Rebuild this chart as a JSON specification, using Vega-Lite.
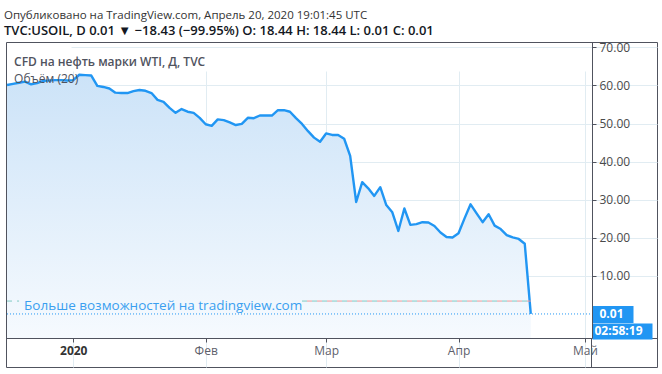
{
  "$schema": "https://vega.github.io/schema/vega-lite/v6.json",
  "width": 651,
  "height": 325,
  "autosize": {"type": "none"},
  "padding": {"left": 6, "top": 42, "right": 5, "bottom": 7},
  "background": "white",
  "config": {
    "view": {"stroke": "#50535e", "strokeWidth": 1},
    "font": "Open Sans",
    "text": {"font": "Open Sans"}
  },
  "title": {
    "text": "Опубликовано на TradingView.com, Апрель 20, 2020 19:01:45 UTC",
    "subtitle": "TVC:USOIL, D  0.01 ▼ −18.43 (−99.95%)  O: 18.44  H: 18.44  L: 0.01  C: 0.01",
    "anchor": "start",
    "frame": "group",
    "dx": -2,
    "offset": 3,
    "font": "Open Sans",
    "fontSize": 11.5,
    "fontWeight": "normal",
    "color": "#333333",
    "subtitleFont": "Open Sans",
    "subtitleFontSize": 13,
    "subtitleFontWeight": 600,
    "subtitleColor": "#131722",
    "subtitlePadding": 4
  },
  "data": {
    "values": [
      {"date": "2019-12-16", "close": 60.1},
      {"date": "2019-12-17", "close": 60.4},
      {"date": "2019-12-18", "close": 60.7},
      {"date": "2019-12-19", "close": 61.0},
      {"date": "2019-12-20", "close": 60.3},
      {"date": "2019-12-23", "close": 60.6},
      {"date": "2019-12-24", "close": 61.2},
      {"date": "2019-12-26", "close": 61.3},
      {"date": "2019-12-27", "close": 61.4},
      {"date": "2019-12-30", "close": 61.4},
      {"date": "2019-12-31", "close": 61.3},
      {"date": "2020-01-02", "close": 61.4},
      {"date": "2020-01-03", "close": 62.8},
      {"date": "2020-01-06", "close": 62.7},
      {"date": "2020-01-07", "close": 62.6},
      {"date": "2020-01-08", "close": 59.9},
      {"date": "2020-01-09", "close": 59.6},
      {"date": "2020-01-10", "close": 59.2},
      {"date": "2020-01-13", "close": 58.1},
      {"date": "2020-01-14", "close": 58.0},
      {"date": "2020-01-15", "close": 58.0},
      {"date": "2020-01-16", "close": 58.5},
      {"date": "2020-01-17", "close": 58.8},
      {"date": "2020-01-20", "close": 58.6},
      {"date": "2020-01-21", "close": 58.0},
      {"date": "2020-01-22", "close": 56.2},
      {"date": "2020-01-23", "close": 55.7},
      {"date": "2020-01-24", "close": 54.1},
      {"date": "2020-01-27", "close": 52.8},
      {"date": "2020-01-28", "close": 53.8},
      {"date": "2020-01-29", "close": 53.1},
      {"date": "2020-01-30", "close": 52.8},
      {"date": "2020-01-31", "close": 51.5},
      {"date": "2020-02-03", "close": 49.8},
      {"date": "2020-02-04", "close": 49.4},
      {"date": "2020-02-05", "close": 51.1},
      {"date": "2020-02-06", "close": 50.9},
      {"date": "2020-02-07", "close": 50.3},
      {"date": "2020-02-10", "close": 49.6},
      {"date": "2020-02-11", "close": 49.9},
      {"date": "2020-02-12", "close": 51.5},
      {"date": "2020-02-13", "close": 51.4},
      {"date": "2020-02-14", "close": 52.1},
      {"date": "2020-02-17", "close": 52.1},
      {"date": "2020-02-18", "close": 52.1},
      {"date": "2020-02-19", "close": 53.5},
      {"date": "2020-02-20", "close": 53.5},
      {"date": "2020-02-21", "close": 53.1},
      {"date": "2020-02-24", "close": 51.4},
      {"date": "2020-02-25", "close": 49.9},
      {"date": "2020-02-26", "close": 48.0},
      {"date": "2020-02-27", "close": 46.3},
      {"date": "2020-02-28", "close": 45.2},
      {"date": "2020-03-02", "close": 47.4},
      {"date": "2020-03-03", "close": 47.0},
      {"date": "2020-03-04", "close": 47.0},
      {"date": "2020-03-05", "close": 46.0},
      {"date": "2020-03-06", "close": 41.5},
      {"date": "2020-03-09", "close": 29.4},
      {"date": "2020-03-10", "close": 34.6},
      {"date": "2020-03-11", "close": 33.0},
      {"date": "2020-03-12", "close": 31.0},
      {"date": "2020-03-13", "close": 33.3},
      {"date": "2020-03-16", "close": 28.6},
      {"date": "2020-03-17", "close": 26.7},
      {"date": "2020-03-18", "close": 21.8},
      {"date": "2020-03-19", "close": 27.7},
      {"date": "2020-03-20", "close": 23.4},
      {"date": "2020-03-23", "close": 23.6},
      {"date": "2020-03-24", "close": 24.1},
      {"date": "2020-03-25", "close": 24.0},
      {"date": "2020-03-26", "close": 23.1},
      {"date": "2020-03-27", "close": 21.4},
      {"date": "2020-03-30", "close": 20.2},
      {"date": "2020-03-31", "close": 20.1},
      {"date": "2020-04-01", "close": 21.2},
      {"date": "2020-04-02", "close": 25.1},
      {"date": "2020-04-03", "close": 28.8},
      {"date": "2020-04-06", "close": 26.4},
      {"date": "2020-04-07", "close": 24.1},
      {"date": "2020-04-08", "close": 26.2},
      {"date": "2020-04-09", "close": 23.2},
      {"date": "2020-04-13", "close": 22.3},
      {"date": "2020-04-14", "close": 20.7},
      {"date": "2020-04-15", "close": 20.1},
      {"date": "2020-04-16", "close": 19.7},
      {"date": "2020-04-17", "close": 18.44},
      {"date": "2020-04-20", "close": 0.01}
    ]
  },
  "layer": [
    {
      "mark": {
        "type": "area",
        "color": {
          "gradient": "linear",
          "x1": 0, "y1": 0, "x2": 0, "y2": 1,
          "stops": [
            {"offset": 0, "color": "#cce3f8"},
            {"offset": 1, "color": "#f6fafe"}
          ]
        }
      },
      "encoding": {
        "x": {
          "field": "date",
          "type": "ordinal",
          "scale": {
            "type": "point",
            "padding": 0.17,
            "range": [0, 586],
            "domain": [
              "2019-12-16","2019-12-17","2019-12-18","2019-12-19","2019-12-20","2019-12-23","2019-12-24","2019-12-26","2019-12-27","2019-12-30","2019-12-31",
              "2020-01-02","2020-01-03","2020-01-06","2020-01-07","2020-01-08","2020-01-09","2020-01-10","2020-01-13","2020-01-14","2020-01-15","2020-01-16","2020-01-17","2020-01-20","2020-01-21","2020-01-22","2020-01-23","2020-01-24","2020-01-27","2020-01-28","2020-01-29","2020-01-30","2020-01-31",
              "2020-02-03","2020-02-04","2020-02-05","2020-02-06","2020-02-07","2020-02-10","2020-02-11","2020-02-12","2020-02-13","2020-02-14","2020-02-17","2020-02-18","2020-02-19","2020-02-20","2020-02-21","2020-02-24","2020-02-25","2020-02-26","2020-02-27","2020-02-28",
              "2020-03-02","2020-03-03","2020-03-04","2020-03-05","2020-03-06","2020-03-09","2020-03-10","2020-03-11","2020-03-12","2020-03-13","2020-03-16","2020-03-17","2020-03-18","2020-03-19","2020-03-20","2020-03-23","2020-03-24","2020-03-25","2020-03-26","2020-03-27","2020-03-30","2020-03-31",
              "2020-04-01","2020-04-02","2020-04-03","2020-04-06","2020-04-07","2020-04-08","2020-04-09","2020-04-13","2020-04-14","2020-04-15","2020-04-16","2020-04-17","2020-04-20","2020-04-21","2020-04-22","2020-04-23","2020-04-24","2020-04-27","2020-04-28","2020-04-29","2020-04-30",
              "2020-05-01","2020-05-04"
            ]
          },
          "axis": {
            "title": null,
            "offset": -29,
            "values": ["2020-01-02", "2020-02-03", "2020-03-02", "2020-04-01", "2020-05-01", "2020-05-04"],
            "labelExpr": "datum.value == '2020-01-02' ? '2020' : datum.value == '2020-02-03' ? 'Фев' : datum.value == '2020-03-02' ? 'Мар' : datum.value == '2020-04-01' ? 'Апр' : datum.value == '2020-05-01' ? 'Май' : ''",
            "labelAngle": 0,
            "labelFont": "Open Sans",
            "labelFontSize": 12,
            "labelColor": {"condition": {"test": "datum.value == '2020-01-02'", "value": "#333333"}, "value": "#5d606b"},
            "labelFontWeight": {"condition": {"test": "datum.value == '2020-01-02'", "value": "bold"}, "value": "normal"},
            "labelPadding": 3,
            "labelOverlap": false,
            "labelFlush": false,
            "labelBound": false,
            "domain": true,
            "domainColor": "#50535e",
            "grid": true,
            "gridColor": {"condition": {"test": "datum.value == '2020-05-04'", "value": "transparent"}, "value": "#e1ecf2"},
            "gridWidth": 1,
            "ticks": true,
            "tickColor": "#50535e",
            "tickSize": {"condition": {"test": "datum.value == '2020-05-04'", "value": 29}, "value": 4}
          }
        },
        "y": {
          "field": "close",
          "type": "quantitative",
          "scale": {"domain": [-6.3, 71.4], "nice": false, "zero": false, "range": [296, 0]},
          "axis": {
            "title": null,
            "orient": "right",
            "offset": -65,
            "tickCount": 40,
            "values": [-6.29, -4.46, 0.01, 10, 20, 30, 40, 50, 60, 70],
            "labelExpr": "datum.value < -5 ? '' : datum.value < 0 ? '02:58:19' : datum.value < 1 ? '0.01' : format(datum.value, '.2f')",
            "labelFont": "Open Sans",
            "labelFontSize": 12,
            "labelColor": {"condition": {"test": "datum.value < 1", "value": "#ffffff"}, "value": "#4a4a4a"},
            "labelFontWeight": {"condition": {"test": "datum.value < 1", "value": "bold"}, "value": "normal"},
            "labelPadding": {"condition": [{"test": "datum.value < 0", "value": -58}, {"test": "datum.value < 1", "value": -34}], "value": 3},
            "labelOverlap": false,
            "labelBound": false,
            "labelFlush": false,
            "domain": true,
            "domainColor": "#50535e",
            "grid": true,
            "gridColor": {"condition": {"test": "datum.value < 1", "value": "transparent"}, "value": "#e1ecf2"},
            "ticks": true,
            "tickColor": {"condition": [{"test": "datum.value < -5", "value": "#50535e"}, {"test": "datum.value < 1", "value": "#2196f3"}], "value": "#50535e"},
            "tickSize": {"condition": [{"test": "datum.value < -5", "value": 65}, {"test": "datum.value < 0", "value": 60}, {"test": "datum.value < 1", "value": 41}], "value": 4},
            "tickWidth": {"condition": [{"test": "datum.value < -5", "value": 1}, {"test": "datum.value < 0", "value": 16}, {"test": "datum.value < 1", "value": 17}], "value": 1}
          }
        },
        "y2": {"datum": -6.3}
      }
    },
    {
      "mark": {"type": "line", "color": "#2196f3", "strokeWidth": 2.4, "strokeJoin": "round"},
      "encoding": {
        "x": {"field": "date", "type": "ordinal"},
        "y": {"field": "close", "type": "quantitative"}
      }
    },
    {
      "data": {"values": [{}]},
      "mark": {"type": "rule", "color": "#2196f3", "strokeDash": [1, 2], "strokeWidth": 1},
      "encoding": {
        "x": {"datum": "2019-12-16", "type": "ordinal"},
        "x2": {"datum": "2020-05-04"},
        "y": {"datum": 0.01, "type": "quantitative"}
      }
    },
    {
      "data": {"values": [{}]},
      "mark": {"type": "rule", "color": "#80cbc4", "strokeDash": [5, 5], "strokeWidth": 1},
      "encoding": {
        "x": {"datum": "2019-12-16", "type": "ordinal"},
        "x2": {"datum": "2019-12-18"},
        "y": {"datum": 3.4, "type": "quantitative"}
      }
    },
    {
      "data": {"values": [{}]},
      "mark": {"type": "rule", "color": "#80cbc4", "strokeDash": [5, 5], "strokeWidth": 1},
      "encoding": {
        "x": {"datum": "2020-02-25", "type": "ordinal"},
        "x2": {"datum": "2020-04-20"},
        "y": {"datum": 3.4, "type": "quantitative"}
      }
    },
    {
      "data": {"values": [{}]},
      "mark": {"type": "rule", "color": "#ef9a9a", "strokeDash": [5, 5], "strokeDashOffset": 5, "strokeWidth": 1},
      "encoding": {
        "x": {"datum": "2020-02-25", "type": "ordinal"},
        "x2": {"datum": "2020-04-20"},
        "y": {"datum": 3.4, "type": "quantitative"}
      }
    },
    {
      "data": {"values": [{"label": "Больше возможностей на tradingview.com"}]},
      "mark": {"type": "text", "align": "left", "baseline": "middle", "fontSize": 13.5, "color": "#3a9ff0", "dx": -1},
      "encoding": {
        "x": {"datum": "2019-12-19", "type": "ordinal"},
        "y": {"datum": 2.2, "type": "quantitative"},
        "text": {"field": "label"}
      }
    },
    {
      "data": {"values": [{"label": "CFD на нефть марки WTI, Д, TVC"}]},
      "mark": {"type": "text", "align": "left", "baseline": "middle", "fontSize": 12, "fontWeight": 600, "color": "#50535e", "dx": 1},
      "encoding": {
        "x": {"datum": "2019-12-17", "type": "ordinal"},
        "y": {"datum": 66.1, "type": "quantitative"},
        "text": {"field": "label"}
      }
    },
    {
      "data": {"values": [{"label": "Объём (20)"}]},
      "mark": {"type": "text", "align": "left", "baseline": "middle", "fontSize": 12, "color": "#50535e", "dx": 1},
      "encoding": {
        "x": {"datum": "2019-12-17", "type": "ordinal"},
        "y": {"datum": 61.6, "type": "quantitative"},
        "text": {"field": "label"}
      }
    }
  ]
}
